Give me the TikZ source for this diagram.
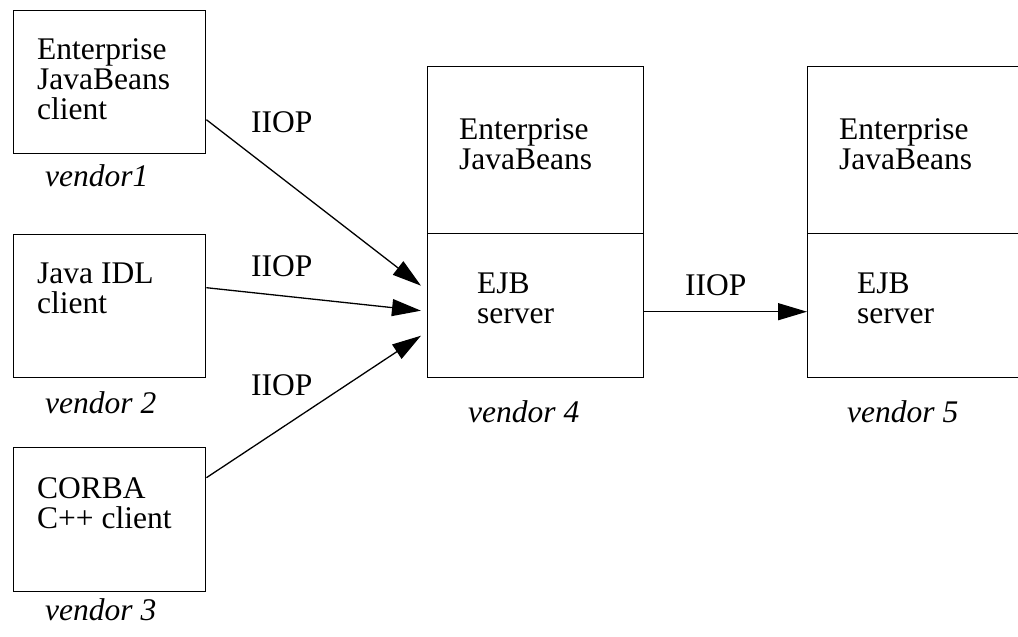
\documentclass[tikz,border=0pt]{standalone}
\usepackage{fontspec}
\setmainfont{Liberation Serif}
\usetikzlibrary{arrows.meta}
\begin{document}
\begin{tikzpicture}[x=1pt,y=-1pt,
  box/.style={draw, line width=1.4pt, inner sep=0pt, anchor=north west},
  txt/.style={anchor=base west, inner sep=0pt, font=\fontsize{31.5}{30}\selectfont},
  vend/.style={anchor=base west, inner sep=0pt, font=\fontsize{31.5}{30}\selectfont\itshape},
  conn/.style={line width=1.3pt, -{Triangle[length=29pt,width=17pt]}}]
\path[use as bounding box, clip] (0,0) rectangle (1018,637);
\fill[white] (0,0) rectangle (1018,637);
% client boxes
\node[box, minimum width=192pt, minimum height=143pt] (b1) at (13,10) {};
\node[box, minimum width=192pt, minimum height=143pt] (b2) at (13,234) {};
\node[box, minimum width=192pt, minimum height=144pt] (b3) at (13,447) {};
% server boxes
\node[box, minimum width=216pt, minimum height=167pt] (b4t) at (427,66) {};
\node[box, minimum width=216pt, minimum height=144pt] (b4b) at (427,233) {};
\node[box, minimum width=216pt, minimum height=167pt] (b5t) at (807,66) {};
\node[box, minimum width=216pt, minimum height=144pt] (b5b) at (807,233) {};
% texts
\node[txt] (t1) at (37,59) {\vtop{\hbox{Enterprise}\hbox{JavaBeans}\hbox{client}}};
\node[vend] (v1) at (45,186) {vendor1};
\node[txt] (t2) at (37,283) {\vtop{\hbox{Java IDL}\hbox{client}}};
\node[vend] (v2) at (45,413) {vendor 2};
\node[txt] (t3) at (37,498) {\vtop{\hbox{CORBA}\hbox{C++ client}}};
\node[vend] (v3) at (45,620) {vendor 3};
\node[txt] (t4a) at (459,139) {\vtop{\hbox{Enterprise}\hbox{JavaBeans}}};
\node[txt] (t4b) at (477,293) {\vtop{\hbox{EJB}\hbox{server}}};
\node[vend] (v4) at (468,422) {vendor 4};
\node[txt] (t5a) at (839,139) {\vtop{\hbox{Enterprise}\hbox{JavaBeans}}};
\node[txt] (t5b) at (857,293) {\vtop{\hbox{EJB}\hbox{server}}};
\node[vend] (v5) at (847,422) {vendor 5};
% labels
\node[txt] (l1) at (251,132) {IIOP};
\node[txt] (l2) at (251,276) {IIOP};
\node[txt] (l3) at (251,395) {IIOP};
\node[txt] (l4) at (685,295) {IIOP};
% connectors
\draw[conn] ([yshift=-37.5pt]b1.east) -- ([xshift=-6pt,yshift=20pt]b4b.west);
\draw[conn] ([yshift=18.5pt]b2.east) -- ([xshift=-6pt,yshift=-5pt]b4b.west);
\draw[conn] ([yshift=42pt]b3.east) -- ([xshift=-6pt,yshift=-30pt]b4b.west);
\draw[conn] ([yshift=-6pt]b4b.east) -- ([yshift=-6pt]b5b.west);
\end{tikzpicture}
\end{document}
